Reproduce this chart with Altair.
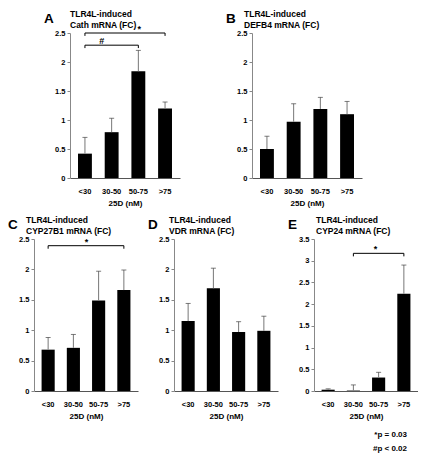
import altair as alt
import pandas as pd

FONT = "Liberation Sans"

cats = ["<30", "30-50", "50-75", ">75"]
letters = ["A", "B", "C", "D", "E"]
genes = ["Cath mRNA (FC)", "DEFB4 mRNA (FC)", "CYP27B1 mRNA (FC)",
         "VDR mRNA (FC)", "CYP24 mRNA (FC)"]
head = "TLR4L-induced"

# bar heights (mean) and top of error bar
a_vals = [0.42, 0.79, 1.84, 1.20]
a_errs = [0.70, 1.03, 2.20, 1.31]
b_vals = [0.50, 0.97, 1.19, 1.10]
b_errs = [0.72, 1.28, 1.39, 1.32]
c_vals = [0.68, 0.71, 1.49, 1.66]
c_errs = [0.88, 0.93, 1.97, 1.99]
d_vals = [1.15, 1.69, 0.97, 0.99]
d_errs = [1.44, 2.02, 1.14, 1.23]
e_vals = [0.03, 0.01, 0.31, 2.24]
e_errs = [0.05, 0.14, 0.43, 2.90]

ymax_std = 2.5
ymax_e = 3.5
ticks_std = [0, 0.5, 1, 1.5, 2, 2.5]
ticks_e = [0, 0.5, 1, 1.5, 2, 2.5, 3, 3.5]

# significance brackets: (start, end, height, tick end, label, label category, label dx)
a_brackets = [("<30", "50-75", 2.29, 2.24, "#", "30-50", -10),
              ("<30", ">75", 2.50, 2.45, "*", "50-75", 1)]
c_brackets = [("<30", ">75", 2.39, 2.34, "*", "30-50", 13)]
e_brackets = [("30-50", ">75", 3.17, 3.10, "*", "50-75", -3)]

pvals = ["*p = 0.03", "#p < 0.02"]


def panel(idx, vals, errs, ymax, ticks, brackets, width, height, title_dx,
          extra=None, anchor=False):
    df = pd.DataFrame({"cat": cats, "val": vals, "err": errs})
    xscale = alt.Scale(domain=cats, paddingInner=0.48, paddingOuter=0.3)
    yscale = alt.Scale(domain=[0, ymax], nice=False)
    xax = alt.Axis(title="25D (nM)", labelAngle=0, ticks=False, tickSize=0,
                   labelPadding=9, domainColor="#555", titlePadding=5)
    yax = alt.Axis(values=ticks, format="~g", tickSize=3, tickColor="#888",
                   domainColor="#888", labelPadding=2, grid=False)

    def X(f):
        return alt.X(f, type="nominal", scale=xscale, axis=xax, title="25D (nM)")

    def Y(f):
        return alt.Y(f, type="quantitative", scale=yscale, axis=yax, title=None)

    base = alt.Chart(df)
    bars = base.mark_bar(color="black").encode(x=X("cat"), y=Y("val"))
    whisk = base.mark_rule(color="#777", strokeWidth=1).encode(
        x=X("cat"), y=Y("val"), y2="err:Q")
    caps = base.mark_tick(color="#444", size=5, thickness=1).encode(
        x=X("cat"), y=Y("err"))
    layers = [bars, whisk, caps]

    for (s, e, yv, yt, lab, lcat, ldx) in brackets:
        bdf = pd.DataFrame({"s": [s], "e": [e], "y": [yv], "yt": [yt],
                            "lab": [lab], "lc": [lcat]})
        bb = alt.Chart(bdf)
        layers.append(bb.mark_rule(color="black", strokeWidth=1).encode(
            x=X("s"), x2="e:N", y=Y("y")))
        layers.append(bb.mark_rule(color="black", strokeWidth=1).encode(
            x=X("s"), y=Y("y"), y2="yt:Q"))
        layers.append(bb.mark_rule(color="black", strokeWidth=1).encode(
            x=X("e"), y=Y("y"), y2="yt:Q"))
        layers.append(bb.mark_text(font=FONT, fontWeight="bold", fontSize=9,
                                   baseline="bottom", dx=ldx, dy=1).encode(
            x=X("lc"), y=Y("y"), text="lab:N"))

    # panel letter and two-line heading above the plot
    ldf = pd.DataFrame({"t": [letters[idx]], "h1": [head], "h2": [genes[idx]],
                        "dot": ["."]})
    lb = alt.Chart(ldf)
    layers.append(lb.mark_text(
        font=FONT, fontWeight="bold", fontSize=13.5, align="left",
        baseline="alphabetic").encode(
        x=alt.value(-26), y=alt.value(-10), text="t:N"))
    layers.append(lb.mark_text(
        font=FONT, fontWeight="bold", fontSize=8.5, align="left",
        baseline="alphabetic").encode(
        x=alt.value(title_dx), y=alt.value(-16), text="h1:N"))
    layers.append(lb.mark_text(
        font=FONT, fontWeight="bold", fontSize=8.5, align="left",
        baseline="alphabetic").encode(
        x=alt.value(title_dx), y=alt.value(-5.5), text="h2:N"))
    if anchor:
        # invisible point that keeps a little headroom above the headings
        layers.append(lb.mark_text(
            opacity=0, fontSize=6, baseline="top").encode(
            x=alt.value(0), y=alt.value(-25), text="dot:N"))

    if extra is not None:
        layers.extend(extra)

    return alt.layer(*layers).properties(width=width, height=height)


TOP_W, TOP_H = 110, 145
BOT_W, BOT_H = 104, 152

pdf = pd.DataFrame({"p1": [pvals[0]], "p2": [pvals[1]]})
pbase = alt.Chart(pdf)
ptext = [
    pbase.mark_text(font=FONT, fontWeight="bold", fontSize=8, align="right",
                    baseline="middle").encode(
        x=alt.value(BOT_W - 11), y=alt.value(BOT_H + 44), text="p1:N"),
    pbase.mark_text(font=FONT, fontWeight="bold", fontSize=8, align="right",
                    baseline="middle").encode(
        x=alt.value(BOT_W - 11), y=alt.value(BOT_H + 58), text="p2:N"),
]

A = panel(0, a_vals, a_errs, ymax_std, ticks_std, a_brackets, TOP_W, TOP_H, 0,
          anchor=True)
B = panel(1, b_vals, b_errs, ymax_std, ticks_std, [], TOP_W, TOP_H, -8)
C = panel(2, c_vals, c_errs, ymax_std, ticks_std, c_brackets, BOT_W, BOT_H, -8,
          anchor=True)
D = panel(3, d_vals, d_errs, ymax_std, ticks_std, [], BOT_W, BOT_H, -5)
E = panel(4, e_vals, e_errs, ymax_e, ticks_e, e_brackets, BOT_W, BOT_H, 2,
          extra=ptext)

# empty narrow view that indents the top row relative to the bottom row
spacer = alt.Chart(pd.DataFrame({"s": [""]})).mark_text().encode(
    text="s:N").properties(width=10, height=10)

top = alt.hconcat(spacer, alt.hconcat(A, B, spacing=46), spacing=0)
bottom = alt.hconcat(C, D, E, spacing=10)

chart = alt.vconcat(top, bottom, spacing=6, padding=0).configure_view(
    stroke=None).configure_axis(
    labelFont=FONT, labelFontWeight="bold", labelFontSize=7.5,
    labelColor="black", titleFont=FONT, titleFontWeight="bold",
    titleFontSize=8, titleColor="black")

chart.save("out.html", embed_options={"renderer": "svg", "actions": False})
